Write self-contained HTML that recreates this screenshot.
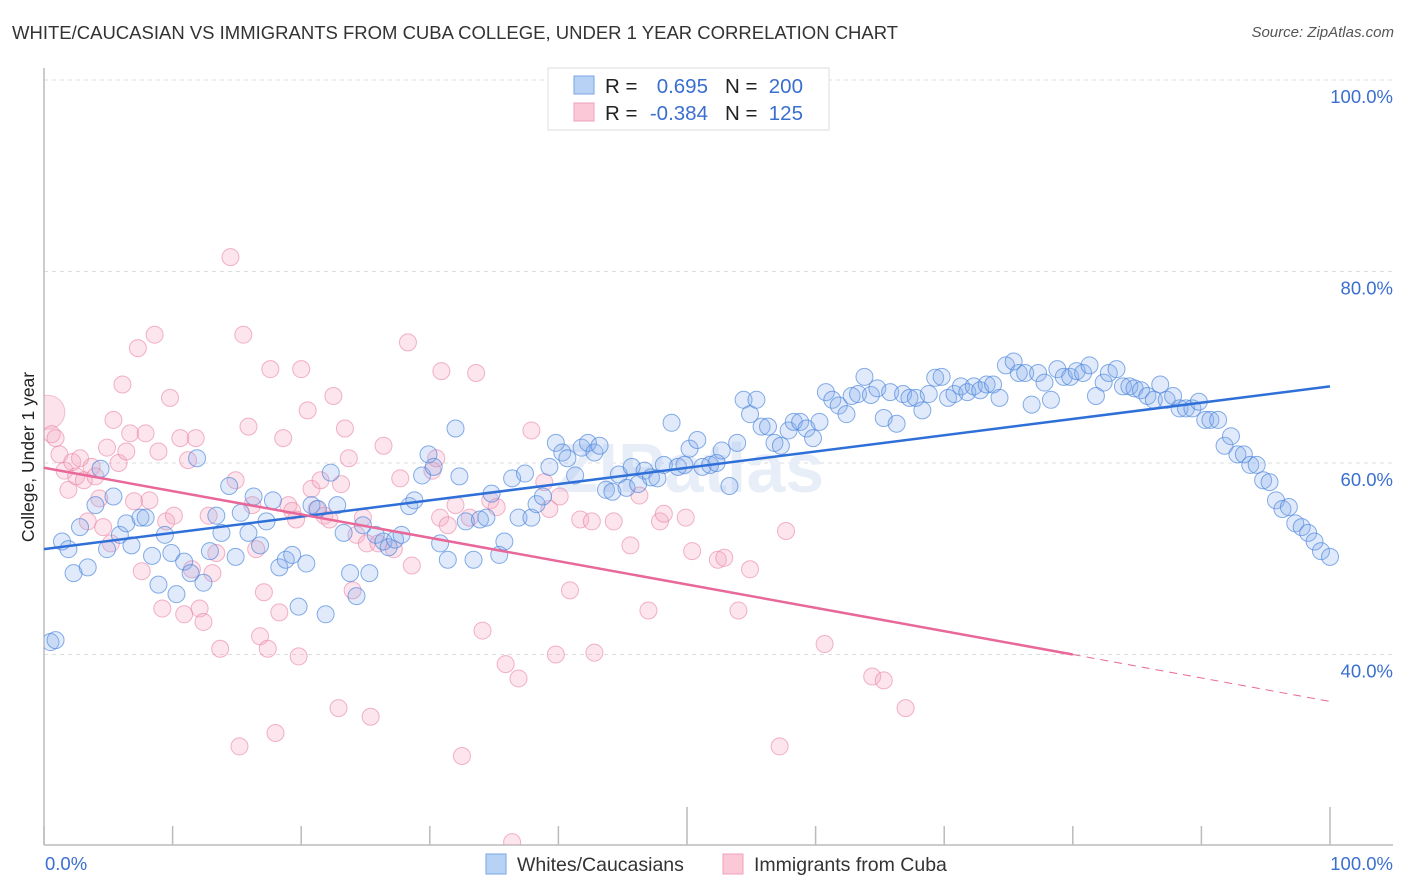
<!DOCTYPE html>
<html><head><meta charset="utf-8">
<style>
body{margin:0;background:#fff;font-family:"Liberation Sans",sans-serif;}
#wrap{position:relative;width:1406px;height:892px;overflow:hidden;}
.t{position:absolute;white-space:nowrap;}
</style></head>
<body>
<div id="wrap">
<div class="t" style="left:12px;top:22px;font-size:18.5px;color:#333;">WHITE/CAUCASIAN VS IMMIGRANTS FROM CUBA COLLEGE, UNDER 1 YEAR CORRELATION CHART</div>
<div class="t" style="right:12px;top:24px;font-size:15px;color:#555;font-style:italic;">Source: ZipAtlas.com</div>
<svg id="chart" width="1406" height="892" style="position:absolute;left:0;top:0"></svg>
</div>
<script>
const blueX=[0.5,0.9,1.4,1.9,2.3,2.8,3.4,4.0,4.4,4.9,5.4,5.9,6.4,6.8,7.5,7.9,8.4,8.9,9.4,9.9,10.3,10.9,11.4,11.9,12.4,12.9,13.4,13.8,14.4,14.9,15.3,15.9,16.3,16.8,17.3,17.8,18.3,18.8,19.3,19.8,20.4,20.8,21.3,21.9,22.3,22.8,23.3,23.8,24.3,24.8,25.3,25.8,26.4,26.8,27.3,27.8,28.4,28.8,29.4,29.9,30.3,30.8,31.4,32.0,32.3,32.8,33.4,33.9,34.4,34.8,35.4,35.8,36.4,36.9,37.4,37.9,38.3,38.8,39.3,39.8,40.3,40.7,41.3,41.8,42.3,42.8,43.2,43.7,44.2,44.7,45.3,45.7,46.2,46.7,47.2,47.7,48.2,48.8,49.3,49.8,50.2,50.8,51.2,51.8,52.3,52.7,53.3,53.9,54.4,54.9,55.4,55.8,56.3,56.8,57.3,57.9,58.3,58.8,59.3,59.8,60.3,60.8,61.3,61.8,62.4,62.8,63.3,63.8,64.3,64.8,65.3,65.8,66.3,66.8,67.3,67.8,68.3,68.8,69.3,69.8,70.3,70.8,71.3,71.8,72.3,72.8,73.3,73.8,74.3,74.8,75.4,75.8,76.3,76.8,77.3,77.8,78.3,78.8,79.3,79.8,80.3,80.8,81.3,81.8,82.4,82.8,83.4,83.9,84.4,84.8,85.3,85.8,86.3,86.8,87.3,87.8,88.3,88.8,89.3,89.8,90.3,90.7,91.3,91.8,92.3,92.8,93.3,93.8,94.3,94.8,95.3,95.8,96.3,96.8,97.3,97.8,98.3,98.8,99.3,100];
const blueY=[41.3,41.5,51.8,51.0,48.5,53.3,49.1,55.6,59.4,51.0,56.5,52.5,53.7,51.4,54.3,54.3,50.3,47.3,52.5,50.6,46.3,49.7,48.5,60.5,47.5,50.8,54.5,52.7,57.6,50.2,54.8,52.7,56.5,51.4,53.9,56.1,49.1,49.9,50.4,45.0,49.5,55.6,55.2,44.2,59.0,55.6,52.7,48.5,46.1,53.5,48.5,52.5,51.8,51.2,52.0,52.5,55.5,56.1,58.7,60.9,59.6,51.6,49.9,63.6,58.6,53.9,49.9,54.1,54.3,56.8,50.4,51.8,58.4,54.3,58.9,54.3,55.7,56.5,59.6,62.1,61.1,60.5,58.7,61.6,62.1,61.1,61.8,57.2,57.0,58.8,57.4,59.6,57.8,59.2,58.5,58.4,59.8,64.2,59.6,59.8,61.5,62.4,59.6,59.8,60.0,61.3,57.6,62.1,66.6,65.1,66.6,63.8,63.8,62.1,61.8,63.4,64.3,64.3,63.6,62.6,64.3,67.4,66.6,66.0,65.1,67.0,67.2,69.0,67.1,67.8,64.7,67.4,64.1,67.2,66.8,66.8,65.5,67.2,68.9,69.0,66.8,67.2,68.0,67.4,68.0,67.6,68.2,68.2,66.8,70.2,70.6,69.4,69.4,66.1,69.4,68.4,66.6,69.8,69.0,69.0,69.6,69.4,70.2,67.0,68.4,69.4,69.8,68.0,68.0,67.8,67.6,67.0,66.6,68.2,66.6,67.0,65.7,65.7,65.7,66.4,64.5,64.5,64.5,61.8,62.8,60.9,60.9,59.8,59.8,58.2,58.0,56.1,55.2,55.4,53.7,53.3,52.7,51.8,50.8,50.2];
const pinkX=[0.6,0.9,1.2,1.6,1.9,2.2,2.5,2.8,3.1,3.4,3.7,4.0,4.3,4.6,4.9,5.2,5.4,5.8,6.1,6.4,6.7,7.0,7.3,7.6,7.9,8.2,8.6,8.9,9.2,9.5,9.8,10.1,10.6,10.9,11.2,11.5,11.8,12.1,12.4,12.8,13.1,13.4,13.7,14.5,14.9,15.2,15.5,15.9,16.2,16.5,16.8,17.1,17.4,17.6,18.0,18.3,18.6,19.0,19.3,19.6,19.8,20.0,20.5,20.8,21.2,21.5,21.8,22.2,22.5,22.9,23.1,23.4,23.7,24.0,24.3,24.8,25.1,25.4,26.0,26.4,27.2,27.7,28.3,28.6,30.2,30.5,30.8,30.9,31.4,32.0,32.5,33.1,33.6,34.1,34.7,35.2,35.9,36.4,36.9,37.9,38.9,39.3,39.8,40.1,40.9,41.7,42.6,42.8,44.3,45.6,46.3,47.0,47.9,48.2,49.9,50.4,52.4,52.9,54.0,54.9,57.2,57.7,60.7,64.4,65.3,67.0];
const pinkY=[63.0,62.6,60.9,59.2,57.2,60.1,58.6,60.5,58.2,53.9,59.6,58.6,56.3,53.3,61.6,51.6,64.5,60.0,68.2,61.2,63.1,56.0,72.0,48.7,63.1,56.1,73.4,61.2,44.8,53.9,66.8,54.5,62.6,44.2,60.3,48.9,62.6,44.8,43.4,54.5,48.5,50.6,40.6,81.5,58.2,30.4,73.4,63.8,55.6,51.0,41.9,46.5,40.6,69.8,31.8,44.4,62.6,55.6,55.0,54.1,39.8,69.8,65.5,57.3,55.2,58.2,54.5,54.1,67.0,34.4,57.8,63.6,60.5,46.7,52.5,54.3,51.6,33.5,51.6,61.8,51.0,58.4,72.6,49.3,59.2,60.5,54.3,69.6,53.5,55.6,29.4,54.3,69.4,42.5,56.1,55.4,39.0,20.4,37.5,63.4,58.0,55.2,40.0,56.5,46.7,54.1,53.9,40.2,53.9,51.4,56.6,44.6,53.9,54.7,54.3,50.8,49.9,50.1,44.6,48.9,30.4,52.9,41.1,37.7,37.3,34.4];
const bigPink={x:0.3,y:65.3};
const blueTrend=[51.0,68.0];           // y% at x=0 and x=100
const pinkTrend=[59.5,40.0,35.1];      // y% at x=0, x=80, x=100
const pinkSolidEnd=80;
const yTicks=[100,80,60,40];
const yTickLabels=["100.0%","80.0%","60.0%","40.0%"];
const xTicks=[0,10,20,30,40,50,60,70,80,90,100];

const svg=document.getElementById('chart');
const NS='http://www.w3.org/2000/svg';
const X0=44,X1=1330,Y100=80,PXPER=9.575,YB=845;
function sx(v){return X0+(X1-X0)*v/100;}
function sy(v){return Y100+(100-v)*PXPER;}
function mk(tag,attrs,parent){const e=document.createElementNS(NS,tag);for(const k in attrs)e.setAttribute(k,attrs[k]);(parent||svg).appendChild(e);return e;}

const defs=mk('defs',{});
const cp=mk('clipPath',{id:'plotclip'},defs);
mk('rect',{x:X0,y:60,width:1393-X0,height:YB-60},cp);

yTicks.forEach((v,i)=>{
  const g=mk('line',{x1:X0,x2:1393,y1:sy(v),y2:sy(v),stroke:'#ddd','stroke-dasharray':'4,4','stroke-width':1});
  
  
  const t=mk('text',{x:1393,y:sy(v)+23,'text-anchor':'end','font-size':18.5,fill:'#3a6fd0','font-family':'Liberation Sans, sans-serif'});
  t.textContent=yTickLabels[i];
  
  
});
const ya=mk('line',{x1:X0,x2:X0,y1:68,y2:YB,stroke:'#bbb','stroke-width':1.5});


const xa=mk('line',{x1:X0,x2:1393,y1:YB,y2:YB,stroke:'#bbb','stroke-width':1.5});


xTicks.forEach(v=>{
  const tall=(v===50||v===100);
  const tk=mk('line',{x1:sx(v),x2:sx(v),y1:tall?807:826,y2:YB,stroke:'#bbb','stroke-width':1.5});
  
  
});
const wm=mk('text',{x:690,y:492,'text-anchor':'middle','font-size':70,fill:'#e8eef8','font-family':'Liberation Sans, sans-serif','font-weight':'bold'});
wm.textContent='ZIPatlas';



const gp=mk('g',{'clip-path':'url(#plotclip)'});


const bp=mk('circle',{cx:sx(bigPink.x),cy:sy(bigPink.y),r:17,fill:'rgba(244,160,185,0.3)',stroke:'rgba(236,140,170,0.5)','stroke-width':1},gp);


pinkX.forEach((x,i)=>{
  const c=mk('circle',{cx:sx(x),cy:sy(pinkY[i]),r:8.5,fill:'rgba(244,170,195,0.3)',stroke:'rgba(234,130,165,0.6)','stroke-width':1},gp);
  
  
});
blueX.forEach((x,i)=>{
  const c=mk('circle',{cx:sx(x),cy:sy(blueY[i]),r:8.5,fill:'rgba(130,170,235,0.25)',stroke:'rgba(70,130,220,0.65)','stroke-width':1},gp);
  
  
});
const bt=mk('line',{x1:sx(0),y1:sy(blueTrend[0]),x2:sx(100),y2:sy(blueTrend[1]),stroke:'#2f6fd8','stroke-width':2.5});


const pt=mk('line',{x1:sx(0),y1:sy(pinkTrend[0]),x2:sx(pinkSolidEnd),y2:sy(pinkTrend[1]),stroke:'#e8689a','stroke-width':2.5});


const pd=mk('line',{x1:sx(pinkSolidEnd),y1:sy(pinkTrend[1]),x2:sx(100),y2:sy(pinkTrend[2]),stroke:'#e8689a','stroke-width':1,'stroke-dasharray':'8,6'});



const xl0=mk('text',{x:45,y:870,'font-size':18.5,fill:'#3a6fd0','font-family':'Liberation Sans, sans-serif'});
xl0.textContent='0.0%';


const xl1=mk('text',{x:1393,y:870,'text-anchor':'end','font-size':18.5,fill:'#3a6fd0','font-family':'Liberation Sans, sans-serif'});
xl1.textContent='100.0%';


const yt=mk('text',{x:0,y:0,transform:'translate(34,457) rotate(-90)','text-anchor':'middle','font-size':17.5,fill:'#222','font-family':'Liberation Sans, sans-serif'});
yt.textContent='College, Under 1 year';



const lg=mk('g',{});


mk('rect',{x:548,y:68,width:281,height:62,fill:'#fff',stroke:'#ddd','stroke-width':1},lg);
mk('rect',{x:574,y:76,width:20,height:18,fill:'#b8d2f5',stroke:'#7aa6e4'},lg);
mk('rect',{x:574,y:103,width:20,height:18,fill:'#fbc8d7',stroke:'#f0a0b8'},lg);
function lt(x,y,s,c,anchor,name){const t=mk('text',{x:x,y:y,'font-size':20.5,fill:c,'text-anchor':anchor||'start','font-family':'Liberation Sans, sans-serif'},lg);t.textContent=s;}
lt(605,93,'R =','#222','start','legend-r-label-blue');
lt(708,93,'0.695','#3a6fd0','end','legend-r-value-blue');
lt(725,93,'N =','#222','start','legend-n-label-blue');
lt(803,93,'200','#3a6fd0','end','legend-n-value-blue');
lt(605,120,'R =','#222','start','legend-r-label-pink');
lt(708,120,'-0.384','#3a6fd0','end','legend-r-value-pink');
lt(725,120,'N =','#222','start','legend-n-label-pink');
lt(803,120,'125','#3a6fd0','end','legend-n-value-pink');

const bl=mk('g',{});


mk('rect',{x:486,y:854,width:20,height:20,fill:'#b8d2f5',stroke:'#7aa6e4'},bl);
const b1=mk('text',{x:517,y:871,'font-size':19.5,fill:'#333','font-family':'Liberation Sans, sans-serif'},bl);
b1.textContent='Whites/Caucasians';


mk('rect',{x:723,y:854,width:20,height:20,fill:'#fbc8d7',stroke:'#f0a0b8'},bl);
const b2=mk('text',{x:754,y:871,'font-size':19.5,fill:'#333','font-family':'Liberation Sans, sans-serif'},bl);
b2.textContent='Immigrants from Cuba';


</script>
</body></html>
